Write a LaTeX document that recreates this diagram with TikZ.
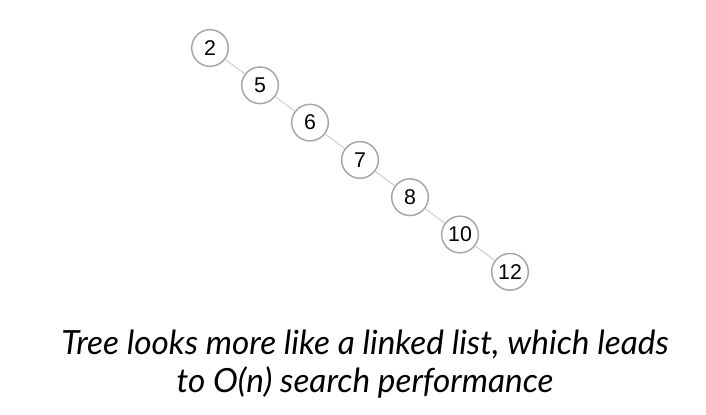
\documentclass[tikz,border=0pt]{standalone}
\usepackage{fontspec}
\setmainfont{Liberation Sans}
\newfontfamily\capfont{Lato}
\usetikzlibrary{positioning}
\definecolor{ringgray}{HTML}{A6A6A6}
\definecolor{linkgray}{HTML}{D4D4D4}

\begin{document}
\begin{tikzpicture}[x=0.75pt,y=-0.75pt,
  treenode/.style={circle,draw=ringgray,line width=1.1pt,fill=white,
    minimum size=27.5pt,inner sep=0pt,font=\fontsize{16}{19}\selectfont},
  link/.style={draw=linkgray,line width=0.9pt}]
  \useasboundingbox (0,0) rectangle (706,414);
  % degenerate tree, one key per level
  \foreach \k [count=\i from 0] in {2,5,6,7,8,10,12} {
    \node[treenode] (k\i) at ({210+50*\i},{48+37.3*\i}) {\k};
  }
  \foreach \i [count=\j from 1] in {0,...,5} {
    \draw[link] (k\i) -- (k\j);
  }
  \node[font=\capfont\itshape\fontsize{25}{29}\selectfont,align=center]
    (caption) at (365,364)
    {Tree looks more like a linked list, which leads\\to O(n) search performance};
\end{tikzpicture}
\end{document}
